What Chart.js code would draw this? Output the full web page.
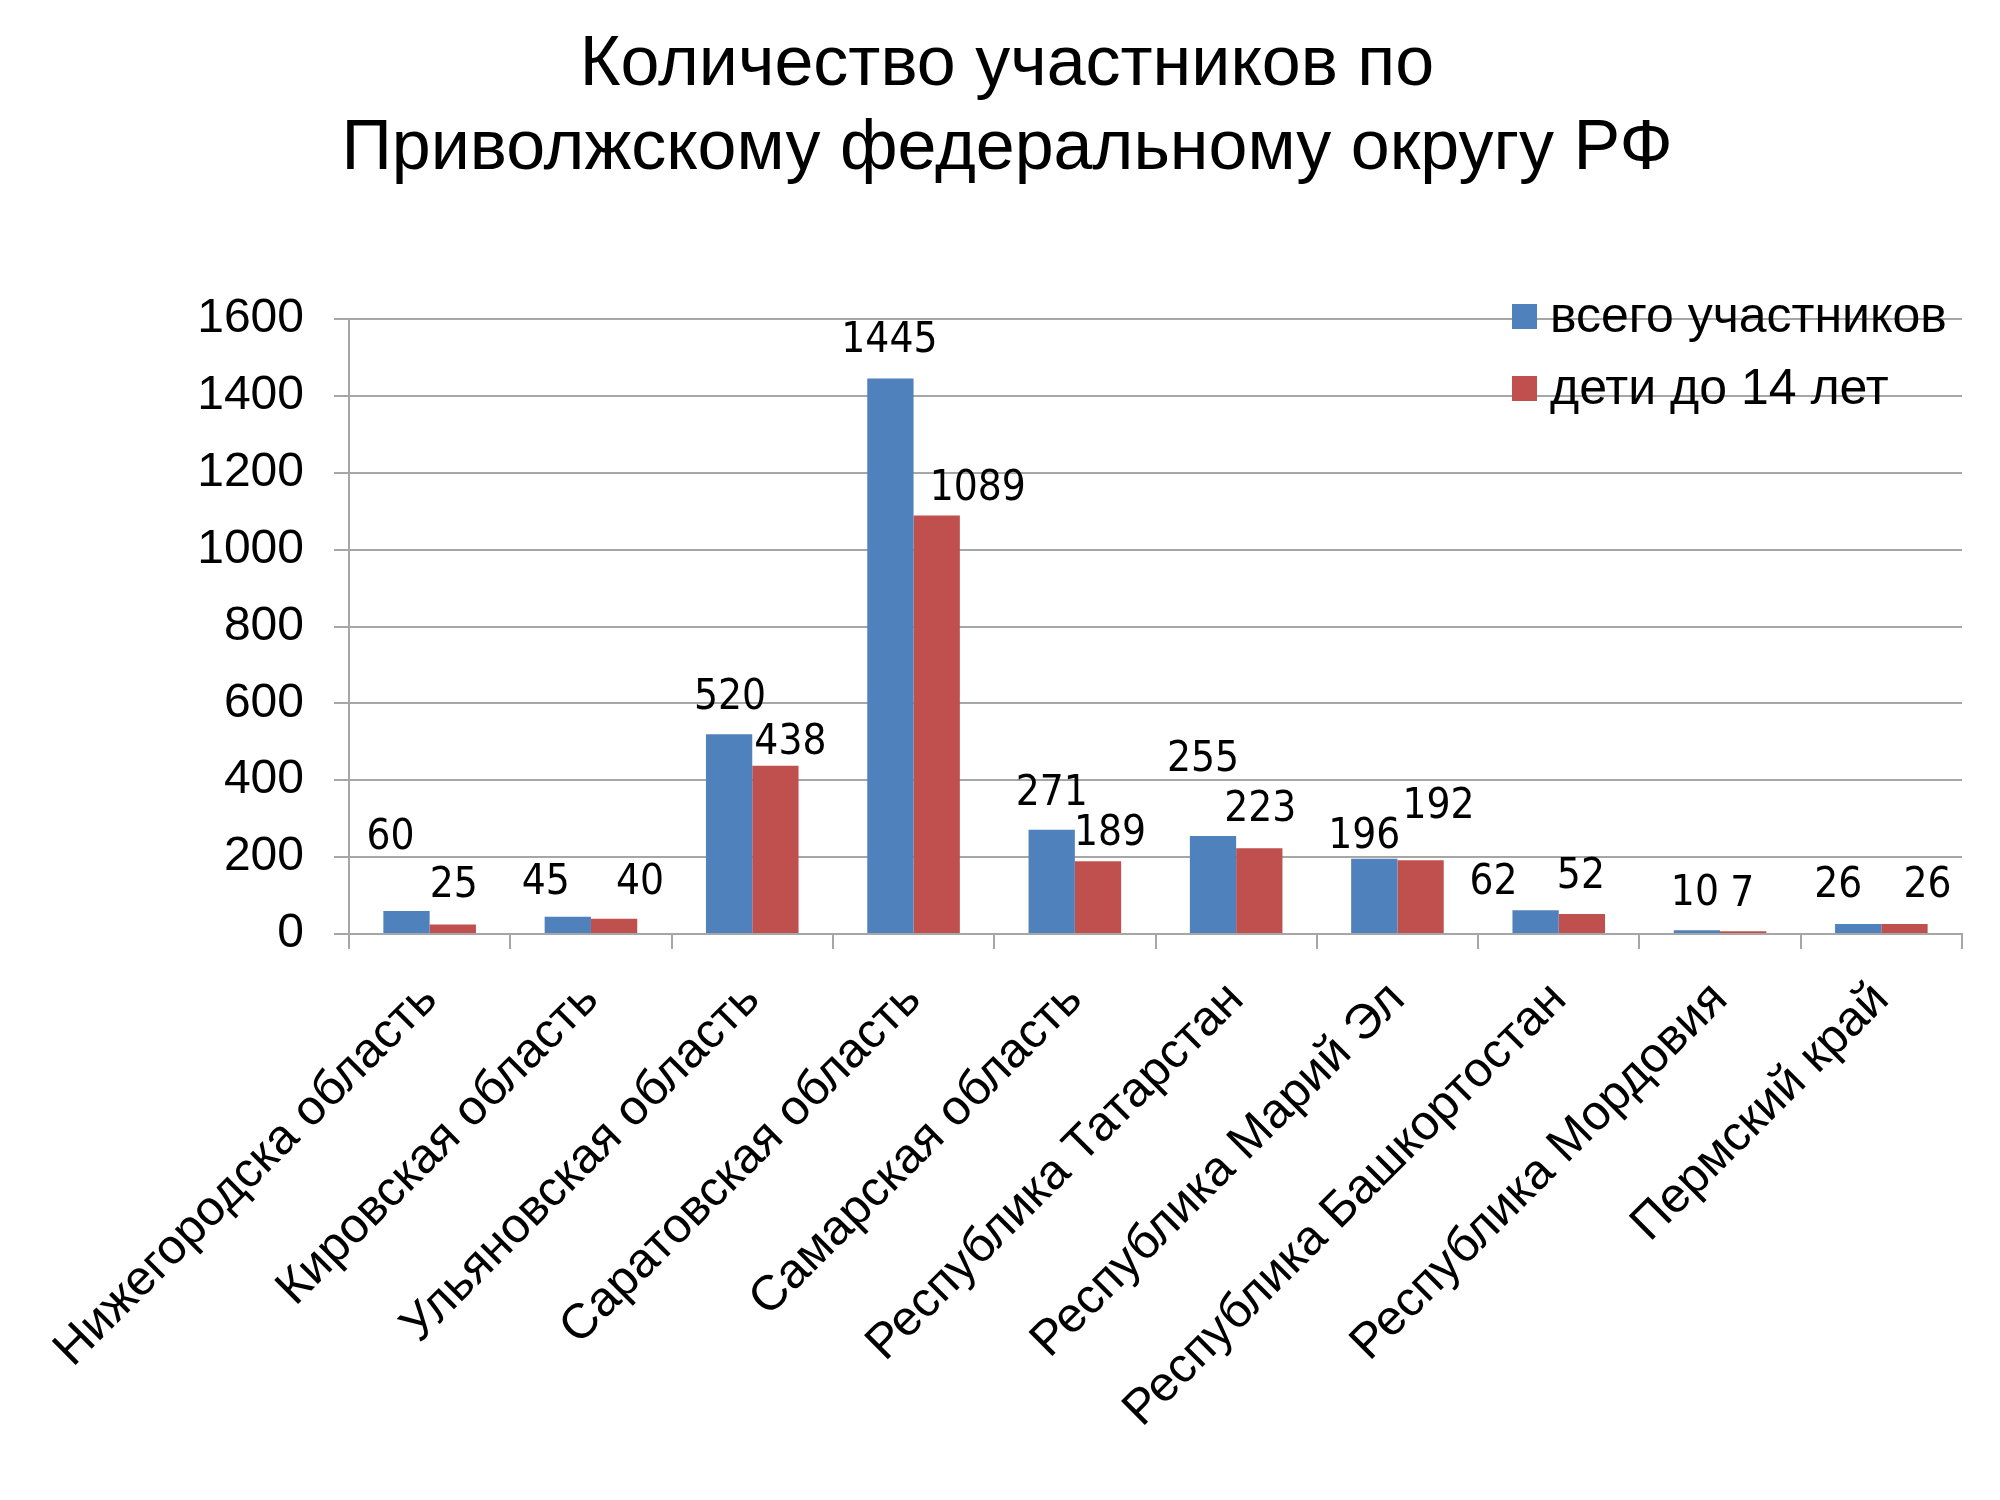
<!DOCTYPE html>
<html lang="ru">
<head>
<meta charset="utf-8">
<title>Количество участников по Приволжскому федеральному округу РФ</title>
<script src="https://cdn.jsdelivr.net/npm/chart.js@4.4.1/dist/chart.umd.min.js"></script>
<style>
  html, body { margin: 0; padding: 0; background: #fff; }
  #wrap { width: 2000px; height: 1500px; }
</style>
</head>
<body>
<div id="wrap"><canvas id="regionsChart" width="2000" height="1500"></canvas></div>
<script>
var regions = [
  'Нижегородска область',
  'Кировская область',
  'Ульяновская область',
  'Саратовская область',
  'Самарская область',
  'Республика Татарстан',
  'Республика Марий Эл',
  'Республика Башкортостан',
  'Республика Мордовия',
  'Пермский край'
];
var totalParticipants = [60, 45, 520, 1445, 271, 255, 196, 62, 10, 26];
var childrenUnder14 = [25, 40, 438, 1089, 189, 223, 192, 52, 7, 26];
var yTickValues = [0, 200, 400, 600, 800, 1000, 1200, 1400, 1600];

// where each value label sits relative to the top of its bar (px), as in the original slide
var totalNudge = [[-16, -73], [-22, -34], [1, -36], [-1, -37], [0, -36], [-10, -76], [-10, -22], [-42, -27], [-2, -36], [-20, -38]];
var kidsNudge = [[1, -38], [26, -36], [15, -23], [41, -26], [12, -27], [1, -38], [18, -53], [-1, -37], [-1, -36], [23, -38]];

var FONT = '"Liberation Sans", Arial, sans-serif';
var GRID = '#a6a6a6';

var valueLabels = {
  id: 'valueLabels',
  afterDatasetsDraw: function (chart) {
    var ctx = chart.ctx;
    ctx.save();
    ctx.font = '42px "DejaVu Sans Condensed", "Liberation Sans", sans-serif';
    ctx.fillStyle = '#000';
    ctx.textAlign = 'center';
    ctx.textBaseline = 'middle';
    chart.data.datasets.forEach(function (ds, i) {
      var nudge = i === 0 ? totalNudge : kidsNudge;
      chart.getDatasetMeta(i).data.forEach(function (bar, j) {
        ctx.fillText(ds.data[j], bar.x + nudge[j][0], bar.y + nudge[j][1]);
      });
    });
    ctx.restore();
  }
};

// legend sits inside the plot, top right corner
var cornerLegend = {
  id: 'cornerLegend',
  afterDraw: function (chart) {
    var ctx = chart.ctx;
    var area = chart.chartArea;
    ctx.save();
    ctx.font = '50px ' + FONT;
    ctx.textBaseline = 'middle';
    ctx.textAlign = 'left';
    chart.data.datasets.forEach(function (ds, i) {
      var y = area.top - 3 + i * 72;
      var x = area.right - 450;
      ctx.fillStyle = ds.backgroundColor;
      ctx.fillRect(x, y - 12, 25, 25);
      ctx.fillStyle = '#000';
      ctx.fillText(ds.label, x + 38, y + 2);
    });
    ctx.restore();
  }
};

var ctx = document.getElementById('regionsChart').getContext('2d');
var regionsChart = new Chart(ctx, {
  type: 'bar',
  data: {
    labels: regions,
    datasets: [
      {
        label: 'всего участников',
        data: totalParticipants,
        backgroundColor: '#4f81bd',
        categoryPercentage: 0.574,
        barPercentage: 1.0
      },
      {
        label: 'дети до 14 лет',
        data: childrenUnder14,
        backgroundColor: '#c0504d',
        categoryPercentage: 0.574,
        barPercentage: 1.0
      }
    ]
  },
  options: {
    responsive: false,
    devicePixelRatio: 1,
    animation: false,
    layout: {
      padding: { left: 52, right: 38, top: 0, bottom: 0 }
    },
    plugins: {
      legend: { display: false },
      tooltip: { enabled: false },
      title: {
        display: true,
        text: ['Количество участников по', 'Приволжскому федеральному округу РФ'],
        color: '#000',
        font: { family: FONT, size: 70, weight: 'normal', lineHeight: 1.2 },
        padding: { top: 24, bottom: 127 }
      }
    },
    scales: {
      x: {
        grid: {
          offset: true,
          drawOnChartArea: false,
          drawTicks: true,
          tickLength: 15,
          color: GRID,
          lineWidth: 2
        },
        border: { color: GRID, width: 2 },
        ticks: {
          color: '#000',
          font: { family: FONT, size: 49 },
          minRotation: 45,
          maxRotation: 45,
          autoSkip: false,
          padding: 22
        },
        afterFit: function (scale) { scale.height = 566; }
      },
      y: {
        min: 0,
        max: 1600,
        grid: {
          color: GRID,
          lineWidth: 2,
          drawTicks: true,
          tickLength: 15
        },
        border: { color: GRID, width: 2 },
        ticks: {
          color: '#000',
          font: { family: FONT, size: 48 },
          padding: 30,
          callback: function (value) { return String(value); }
        },
        afterBuildTicks: function (scale) {
          scale.ticks = yTickValues.map(function (v) { return { value: v }; });
        },
        afterFit: function (scale) { scale.width = 297; }
      }
    }
  },
  plugins: [valueLabels, cornerLegend]
});
</script>
</body>
</html>
